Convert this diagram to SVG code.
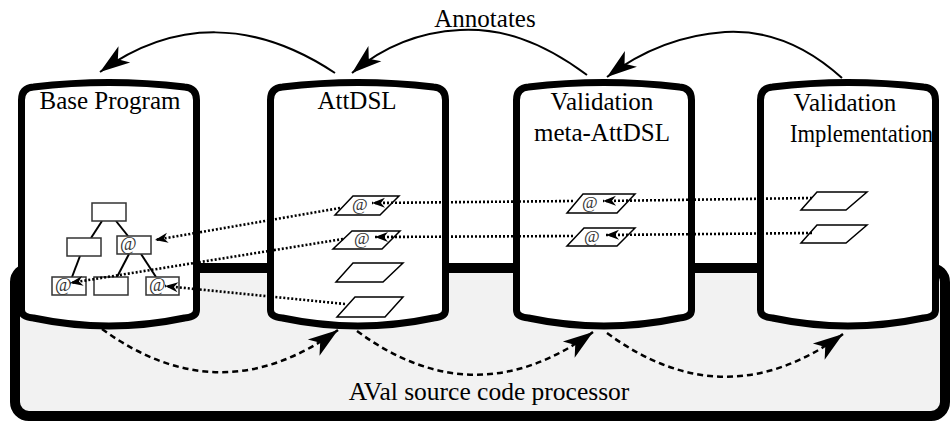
<svg xmlns="http://www.w3.org/2000/svg" xmlns:xlink="http://www.w3.org/1999/xlink" width="951" height="421" viewBox="0 0 951 421">
<style>
.lbl{font-family:"Liberation Serif","Times New Roman",serif;font-size:25px;fill:#000;text-anchor:middle}
.cyl{fill:#fff;stroke:#000;stroke-width:7}
.box{fill:#fff;stroke:#333;stroke-width:1.5}
.par{fill:#fff;stroke:#000;stroke-width:1.5}
.at{font-family:"Liberation Serif","Times New Roman",serif;fill:#333}
.edge{stroke:#000;stroke-width:2;fill:none}
.solid{stroke:#000;stroke-width:2;fill:none;marker-end:url(#big)}
.dash{stroke:#000;stroke-width:2.5;fill:none;stroke-dasharray:6 4;marker-end:url(#big)}
.dot{stroke:#000;stroke-width:2.6;fill:none;stroke-dasharray:2 2;marker-end:url(#small)}
</style>
<defs>
<marker id="big" markerUnits="userSpaceOnUse" viewBox="-32 -12 34 24" refX="0" refY="0" markerWidth="34" markerHeight="24" orient="auto">
<path d="M0,0 L-30,-10 L-22,0 L-30,10 Z" fill="#000"/>
</marker>
<marker id="small" markerUnits="userSpaceOnUse" viewBox="-15 -7 16 14" refX="0" refY="0" markerWidth="16" markerHeight="14" orient="auto">
<path d="M0,0 L-13,-5 L-9,0 L-13,5 Z" fill="#000"/>
</marker>
<path id="cylshape" d="M0,310 L0,100 Q0,88 12,87 Q87.5,78 163,87 Q175,88 175,100 L175,310 Q175,317 163,318 Q87.5,334 12,318 Q0,317 0,310 Z"/>
</defs>

<g id="processor">
<rect x="15" y="268" width="930" height="148" rx="14" fill="#f2f2f2" stroke="#000" stroke-width="10"/>
<text class="lbl" x="489" y="400" style="font-size:25.5px">AVal source code processor</text>
</g>

<g id="base-program">
<use xlink:href="#cylshape" class="cyl" transform="translate(21.5,0)"/>
<text class="lbl" x="110" y="109">Base Program</text>
<g id="ast">
<line class="edge" x1="102" y1="221" x2="91" y2="238"/>
<line class="edge" x1="116" y1="221" x2="128" y2="236"/>
<line class="edge" x1="80" y1="256" x2="72" y2="277"/>
<line class="edge" x1="129" y1="254" x2="117" y2="277"/>
<line class="edge" x1="141" y1="254" x2="156" y2="277"/>
<rect class="box" x="92" y="203" width="34" height="18"/>
<rect class="box" x="67" y="238" width="34" height="18"/>
<rect class="box" x="117" y="236" width="34" height="18"/>
<rect class="box" x="52" y="277" width="34" height="18"/>
<rect class="box" x="94" y="277" width="34" height="18"/>
<rect class="box" x="146" y="277" width="33" height="18"/>
<text class="at" x="120" y="250" font-size="18">@</text>
<text class="at" x="55" y="291" font-size="18">@</text>
<text class="at" x="149" y="291" font-size="18">@</text>
</g>
</g>

<g id="attdsl">
<use xlink:href="#cylshape" class="cyl" transform="translate(270.5,0)"/>
<text class="lbl" x="357" y="109">AttDSL</text>
<polygon class="par" points="353,196 399,196 380,215 335,215"/>
<polygon class="par" points="352,231 400,231 382,249 333,249"/>
<polygon class="par" points="353,263 403,263 383,282 336,282"/>
<polygon class="par" points="355,297 403,297 385,317 337,317"/>
<text class="at" x="352" y="210" font-size="17">@</text>
<text class="at" x="354" y="244" font-size="17">@</text>
</g>

<g id="validation-meta">
<use xlink:href="#cylshape" class="cyl" transform="translate(516.5,0)"/>
<text class="lbl" x="602" y="110">Validation</text>
<text class="lbl" x="602" y="141">meta-AttDSL</text>
<polygon class="par" points="583,194 635,194 617,213 567,213"/>
<polygon class="par" points="584,228 635,228 617,246 567,246"/>
<text class="at" x="582" y="208" font-size="17">@</text>
<text class="at" x="584" y="242" font-size="17">@</text>
</g>

<g id="validation-impl">
<use xlink:href="#cylshape" class="cyl" transform="translate(760.5,0)"/>
<text class="lbl" x="845" y="111">Validation</text>
<text class="lbl" x="861.5" y="142" textLength="143" lengthAdjust="spacingAndGlyphs">Implementation</text>
<polygon class="par" points="817,192 867,192 846,210 801,210"/>
<polygon class="par" points="817,225 867,225 846,243 801,243"/>
</g>

<g id="connectors">
<path class="solid" d="M335,73 C255,20 175,18 100,72"/>
<path class="solid" d="M587,75 C540,40 500,28 460,30 C420,32 385,45 352,73"/>
<path class="solid" d="M842,78 C800,40 760,30 725,32 C680,35 640,52 607,77"/>
<text class="lbl" x="485" y="27">Annotates</text>
<path class="dash" d="M102,329 Q220,415 338,330"/>
<path class="dash" d="M357,331 Q475,418 593,332"/>
<path class="dash" d="M607,333 Q725,420 843,334"/>
<path class="dot" d="M812,198 L603,201"/>
<path class="dot" d="M812,233 L606,235"/>
<path class="dot" d="M573,201 L372,203"/>
<path class="dot" d="M573,236 L375,237"/>
<path class="dot" d="M340,208 L155,240"/>
<path class="dot" d="M343,239 L70,283"/>
<path class="dot" d="M345,304 L165,286"/>
</g>
</svg>
